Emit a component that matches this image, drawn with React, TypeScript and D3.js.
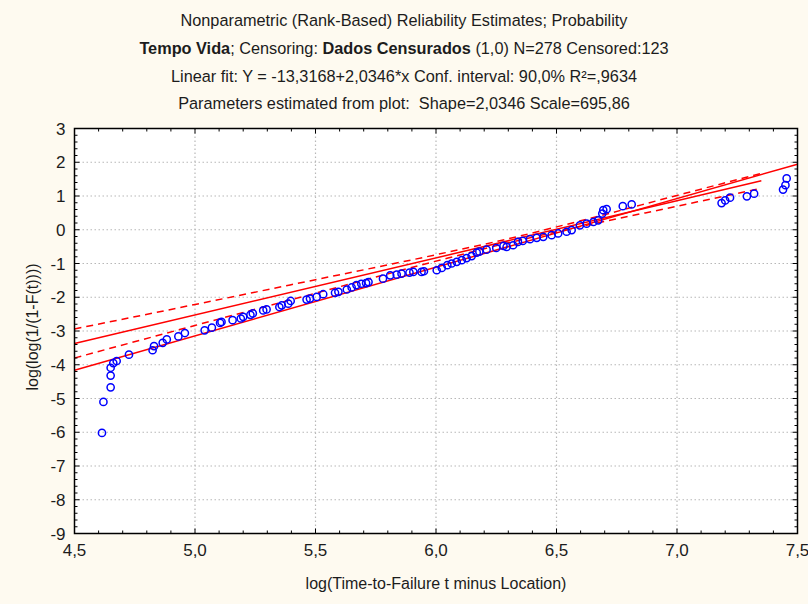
import React from "react";
import * as d3 from "d3";

// reliability plot data
const failX = [
  4.614, 4.62, 4.65, 4.65, 4.65, 4.661, 4.675, 4.726, 4.824, 4.83, 4.866, 4.883,
  4.931, 4.958, 5.04, 5.07, 5.104, 5.11, 5.156, 5.19, 5.2, 5.23, 5.24, 5.283,
  5.297, 5.35, 5.36, 5.387, 5.397, 5.463, 5.477, 5.505, 5.532, 5.581, 5.595,
  5.63, 5.65, 5.67, 5.69, 5.71, 5.72, 5.78, 5.81, 5.837, 5.857, 5.89, 5.906,
  5.94, 5.95, 6.003, 6.024, 6.047, 6.065, 6.086, 6.107, 6.127, 6.148, 6.169,
  6.18, 6.21, 6.25, 6.28, 6.293, 6.32, 6.34, 6.36, 6.39, 6.418, 6.445, 6.48,
  6.507, 6.542, 6.563, 6.597, 6.625, 6.653, 6.673, 6.69, 6.694, 6.708, 6.775,
  6.812, 7.185, 7.2, 7.22, 7.29, 7.32, 7.44, 7.45, 7.455,
];
const failY = [
  -6.02, -5.1, -4.67, -4.32, -4.09, -3.95, -3.89, -3.7, -3.57, -3.45, -3.35,
  -3.25, -3.16, -3.06, -2.98, -2.9, -2.76, -2.73, -2.68, -2.63, -2.58, -2.52,
  -2.48, -2.39, -2.36, -2.29, -2.24, -2.19, -2.11, -2.07, -2.04, -1.99, -1.91,
  -1.87, -1.84, -1.77, -1.71, -1.64, -1.6, -1.58, -1.55, -1.45, -1.35, -1.33,
  -1.3, -1.27, -1.25, -1.25, -1.23, -1.2, -1.13, -1.05, -1.0, -0.95, -0.9,
  -0.84, -0.78, -0.68, -0.65, -0.59, -0.54, -0.48, -0.51, -0.46, -0.36, -0.33,
  -0.28, -0.24, -0.21, -0.16, -0.11, -0.06, -0.01, 0.13, 0.18, 0.23, 0.28,
  0.48, 0.58, 0.61, 0.7, 0.75, 0.79, 0.87, 0.95, 0.99, 1.07, 1.19, 1.32, 1.52,
];

// linear fit from the header
const fitIntercept = -13.3168;
const fitSlope = 2.0346;
const fitRange = [4.5, 7.5];

// second solid line and its dashed band
const rankIntercept = -10.98;
const rankSlope = 1.691;
const rankRange = [4.5, 7.35];
const bandX = [4.5, 5.0, 5.5, 6.0, 6.3, 6.6, 7.0, 7.35];
const bandUpper = [-2.94, -2.215, -1.48, -0.74, -0.267, 0.265, 1.017, 1.67];
const bandLower = [-3.8, -2.835, -1.88, -0.93, -0.387, 0.095, 0.697, 1.23];

const xTicks = [4.5, 5.0, 5.5, 6.0, 6.5, 7.0, 7.5];
const yTicks = [3, 2, 1, 0, -1, -2, -3, -4, -5, -6, -7, -8, -9];

const W = 808;
const H = 604;
const left = 74.5;
const right = 797.5;
const top = 128.5;
const bottom = 533.5;
const font = "'Liberation Sans', Arial, sans-serif";
const ink = "#1c1c1c";
const titleX = 404;

export default function App() {
  const x = d3.scaleLinear().domain([4.5, 7.5]).range([left, right]);
  const y = d3.scaleLinear().domain([-9, 3]).range([bottom, top]);

  const straight = (a: number, b: number, r: number[]) =>
    d3.line<number>().x((v) => x(v)).y((v) => y(a + b * v))(r) || "";

  const bandLine = (vals: number[]) =>
    d3
      .line<number>()
      .x((_, i) => x(bandX[i]))
      .y((v) => y(v))
      .curve(d3.curveMonotoneX)(vals) || "";

  const xMinor = d3.range(45, 76).map((v) => v / 10);
  const yMinor = d3.range(-45, 16).map((v) => v / 5);
  const fmt = (v: number) => v.toFixed(1).replace(".", ",");

  return (
    <div style={{ position: "absolute", left: 0, top: 0 }}>
      <style>{"body{margin:0}"}</style>
      <svg width={W} height={H} style={{ display: "block" }}>
        <rect width={W} height={H} fill="#fefaf0" />

        <g fontFamily={font} fontSize={16.3} fill={ink} textAnchor="middle">
          <text x={titleX} y={26}>
            Nonparametric (Rank-Based) Reliability Estimates; Probability
          </text>
          <text x={titleX} y={54}>
            <tspan fontWeight="bold">Tempo Vida</tspan>
            <tspan>; Censoring: </tspan>
            <tspan fontWeight="bold">Dados Censurados</tspan>
            <tspan> (1,0) N=278 Censored:123</tspan>
          </text>
          <text x={titleX} y={82}>
            Linear fit: Y = -13,3168+2,0346*x Conf. interval: 90,0% R²=,9634
          </text>
          <text x={titleX} y={109} style={{ whiteSpace: "pre" }}>
            {"Parameters estimated from plot:  Shape=2,0346 Scale=695,86"}
          </text>
        </g>

        <rect
          x={left}
          y={top}
          width={right - left}
          height={bottom - top}
          fill="#ffffff"
        />

        <g stroke="#b8b8b8" strokeWidth={1.2} strokeDasharray="1.5,2.5">
          {xTicks.slice(1, -1).map((v) => (
            <line key={"gx" + v} x1={x(v)} x2={x(v)} y1={top} y2={bottom} />
          ))}
          {yTicks.slice(1, -1).map((v) => (
            <line key={"gy" + v} x1={left} x2={right} y1={y(v)} y2={y(v)} />
          ))}
        </g>

        <g stroke="#ff0000" strokeWidth={1.5} fill="none">
          <path d={straight(fitIntercept, fitSlope, fitRange)} />
          <path d={straight(rankIntercept, rankSlope, rankRange)} />
          <path d={bandLine(bandUpper)} strokeDasharray="7,5" />
          <path d={bandLine(bandLower)} strokeDasharray="7,5" />
        </g>

        <g stroke="#0000ff" strokeWidth={1.5} fill="none">
          {failX.map((v, i) => (
            <circle key={i} cx={x(v)} cy={y(failY[i])} r={3.6} />
          ))}
        </g>

        <g stroke="#000" strokeWidth={1}>
          {xMinor.map((v, i) => {
            const len = i % 5 === 0 ? 5 : 3;
            return (
              <g key={"xt" + i}>
                <line x1={x(v)} x2={x(v)} y1={bottom} y2={bottom - len} />
                <line x1={x(v)} x2={x(v)} y1={top} y2={top + len} />
              </g>
            );
          })}
          {yMinor.map((v, i) => {
            const len = i % 5 === 0 ? 5 : 3;
            return (
              <g key={"yt" + i}>
                <line x1={left} x2={left + len} y1={y(v)} y2={y(v)} />
                <line x1={right} x2={right - len} y1={y(v)} y2={y(v)} />
              </g>
            );
          })}
        </g>

        <rect
          x={left}
          y={top}
          width={right - left}
          height={bottom - top}
          fill="none"
          stroke="#000"
          strokeWidth={1.5}
        />

        <g fontFamily={font} fontSize={17} fill={ink}>
          {xTicks.map((v) => (
            <text key={"xl" + v} x={x(v)} y={bottom + 22} textAnchor="middle">
              {fmt(v)}
            </text>
          ))}
          {yTicks.map((v) => (
            <text key={"yl" + v} x={left - 9} y={y(v) + 6} textAnchor="end">
              {v}
            </text>
          ))}
          <text
            x={(left + right) / 2}
            y={589}
            textAnchor="middle"
            fontSize={16}
          >
            log(Time-to-Failure t minus Location)
          </text>
          <text
            transform={`translate(38,${(top + bottom) / 2 - 4}) rotate(-90)`}
            textAnchor="middle"
            fontSize={16}
          >
            log(log(1/(1-F(t))))
          </text>
        </g>
      </svg>
    </div>
  );
}
